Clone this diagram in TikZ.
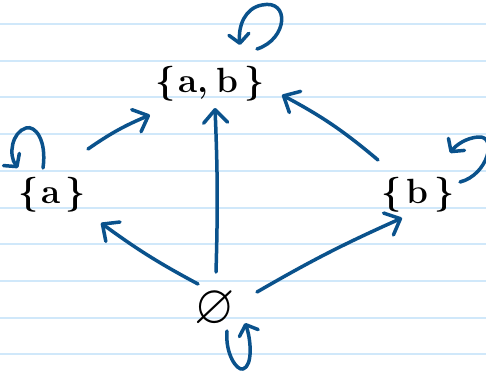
\documentclass[tikz,border=0pt]{standalone}
\usepackage{amssymb}
\usetikzlibrary{arrows.meta,calc}
\definecolor{ink}{RGB}{10,82,140}
\definecolor{rulecol}{RGB}{208,232,250}
\tikzset{
  arr/.style={draw=ink,line width=3.5pt,line cap=round,line join=round,
    -{Straight Barb[length=13pt,width=24pt,line cap=round,line join=round]}},
  looparr/.style={draw=ink,line width=3.5pt,line cap=round,line join=round,
    -{Straight Barb[length=9pt,width=20pt,line cap=round,line join=round]}},
  setnode/.style={inner sep=0pt,text=black,font=\fontsize{35}{35}\selectfont\bfseries},
  ruleline/.style={draw=rulecol,line width=2pt}
}
\begin{document}
\begin{tikzpicture}[x=1pt,y=-1pt]
\useasboundingbox (0,0) rectangle (486,378);
\fill[white] (0,0) rectangle (486,378);
\foreach \k in {0,...,9}
  \draw[ruleline] (0,24+36.7*\k) -- (486,24+36.7*\k);

\node[setnode] (ab) at (210,84) {\{\hspace{3pt}a,\hspace{8pt}b\hspace{6pt}\}};
\node[setnode] (a) at (52,195) {\{\hspace{3pt}a\hspace{5pt}\}};
\node[setnode] (b) at (418,195) {\{\hspace{5pt}b\hspace{6pt}\}};
\node[inner sep=0pt] (e) at (215,309) {\scalebox{5.2}[5.6]{$\varnothing$}};

% edges
\draw[arr] ($(a)+(36,-46)$) to[bend left=6] ($(ab)+(-60,31)$);
\draw[arr] ($(e)+(-17,-25)$) to[bend left=4] ($(a)+(49,28)$);
\draw[arr] ($(e)+(1,-37)$) to[bend right=2] ($(ab)+(5,24)$);
\draw[arr] ($(b)+(-40,-35)$) to[bend right=6] ($(ab)+(72,11)$);
\draw[arr] ($(e)+(42,-17)$) to[bend left=3] ($(b)+(-16,23)$);

% loops
\begin{scope}[shift={(ab)}]
\draw[looparr] (47,-35) .. controls (78,-45) and (80,-85) .. (52,-79)
  .. controls (35,-76) and (28,-58) .. (30,-39);
\end{scope}
\begin{scope}[shift={(a)}]
\draw[looparr] (-9,-27) .. controls (-5,-55) and (-17,-70) .. (-26,-67)
  .. controls (-40,-63) and (-44,-40) .. (-34,-27);
\end{scope}
\begin{scope}[shift={(b)}]
\draw[looparr] (42,-13) .. controls (70,-20) and (80,-60) .. (60,-58)
  .. controls (48,-57) and (38,-50) .. (32,-42);
\end{scope}
\begin{scope}[shift={(e)}]
\draw[looparr] (12,22) .. controls (10,45) and (22,62) .. (28,60)
  .. controls (38,57) and (36,30) .. (30,14);
\end{scope}
\end{tikzpicture}
\end{document}
